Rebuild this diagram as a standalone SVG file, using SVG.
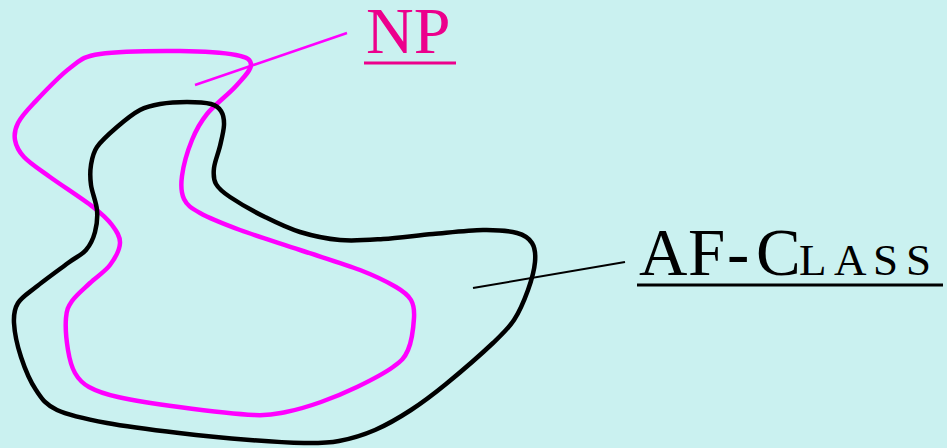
<svg xmlns="http://www.w3.org/2000/svg" width="947" height="448" viewBox="0 0 947 448">
<style>
.blob{fill:none;stroke-width:4.5;stroke-linejoin:round}
.np{stroke:#FF00FF}
.af{stroke:#000000}
.lead{fill:none;stroke-linecap:butt}
.lbl{font-family:"Liberation Serif","Times New Roman",serif}
</style>
<rect width="947" height="448" fill="#CAF1F0"/>
<g id="np-region">
<path class="blob np" d="M 100,54 C 118.3,51.2 157.3,50.8 180,51 C 202.7,51.2 224.2,52.7 236,55 C 247.8,57.3 251,59.8 251,65 C 251,70.2 243.3,77.8 236,86 C 228.7,94.2 214.3,105 207,114 C 199.7,123 196.2,129.7 192,140 C 187.8,150.3 183.3,166.2 182,176 C 180.7,185.8 181,192.8 184,199 C 187,205.2 190.7,207.8 200,213 C 209.3,218.2 223.3,223.8 240,230 C 256.7,236.2 280,243.3 300,250 C 320,256.7 344,263.8 360,270 C 376,276.2 387.5,282 396,287 C 404.5,292 408,294.8 411,300 C 414,305.2 414.5,309.7 414,318 C 413.5,326.3 411.5,341.8 408,350 C 404.5,358.2 401.5,360.8 393,367 C 384.5,373.2 369,381.2 357,387 C 345,392.8 332.8,397.8 321,402 C 309.2,406.2 297.2,409.8 286,412 C 274.8,414.2 271.8,415.8 254,415 C 236.2,414.2 201.7,410 179,407 C 156.3,404 133,400.3 118,397 C 103,393.7 96.2,391 89,387 C 81.8,383 78.5,379.2 75,373 C 71.5,366.8 69.5,359.2 68,350 C 66.5,340.8 65.3,326.2 66,318 C 66.7,309.8 68,306.8 72,301 C 76,295.2 83.7,289 90,283 C 96.3,277 105,271.7 110,265 C 115,258.3 119.7,249.7 120,243 C 120.3,236.3 116.5,231 112,225 C 107.5,219 103.3,215 93,207 C 82.7,199 61.5,185.3 50,177 C 38.5,168.7 29.8,163.2 24,157 C 18.2,150.8 16,145.7 15,140 C 14,134.3 15,129 18,123 C 21,117 24.3,113.2 33,104 C 41.7,94.8 58.8,76.3 70,68 C 81.2,59.7 81.7,56.8 100,54 Z"/>
<text class="lbl" x="366" y="53" font-size="66" fill="#EC008C">NP</text>
<rect x="364" y="61.5" width="92" height="3" fill="#EC008C"/>
</g>
<g id="af-class-region">
<path class="blob af" d="M 140,110 C 147.2,106.2 152.2,105.3 160,104 C 167.8,102.7 178.5,102 187,102 C 195.5,102 205.3,102.5 211,104 C 216.7,105.5 218.8,107.5 221,111 C 223.2,114.5 224.2,119.2 224,125 C 223.8,130.8 221.7,138.8 220,146 C 218.3,153.2 214.7,161.7 214,168 C 213.3,174.3 213.3,179.2 216,184 C 218.7,188.8 221.8,191.5 230,197 C 238.2,202.5 253.3,211.2 265,217 C 276.7,222.8 287.5,228.2 300,232 C 312.5,235.8 326.2,238.8 340,240 C 353.8,241.2 367.5,240 383,239 C 398.5,238 416.3,235.5 433,234 C 449.7,232.5 469,230.2 483,230 C 497,229.8 508.8,230.8 517,233 C 525.2,235.2 529,238.2 532,243 C 535,247.8 535.7,254.2 535,262 C 534.3,269.8 531.5,280.3 528,290 C 524.5,299.7 519.8,311.2 514,320 C 508.2,328.8 504.3,332.3 493,343 C 481.7,353.7 459.7,372.8 446,384 C 432.3,395.2 422.8,402.3 411,410 C 399.2,417.7 387,424.8 375,430 C 363,435.2 350.8,438.8 339,441 C 327.2,443.2 318.8,443.2 304,443 C 289.2,442.8 270.8,441.7 250,440 C 229.2,438.3 202.8,435.8 179,433 C 155.2,430.2 127.3,426.8 107,423 C 86.7,419.2 68.8,415.5 57,410 C 45.2,404.5 42,398.8 36,390 C 30,381.2 24.7,368.2 21,357 C 17.3,345.8 14.5,332 14,323 C 13.5,314 14.3,309 18,303 C 21.7,297 27.7,293.7 36,287 C 44.3,280.3 59.7,269.2 68,263 C 76.3,256.8 81.5,255.2 86,250 C 90.5,244.8 93.2,238.7 95,232 C 96.8,225.3 97.7,217.8 97,210 C 96.3,202.2 92,192.5 91,185 C 90,177.5 90,171.3 91,165 C 92,158.7 92.7,153.3 97,147 C 101.3,140.7 109.8,133.2 117,127 C 124.2,120.8 132.8,113.8 140,110 Z"/>
<text class="lbl" y="275" fill="#000000"><tspan x="639" font-size="67">A</tspan><tspan x="688" font-size="67">F</tspan><tspan x="727" font-size="67">-</tspan><tspan x="756" font-size="67">C</tspan><tspan x="799" font-size="45">L</tspan><tspan x="834" font-size="45">A</tspan><tspan x="873" font-size="45">S</tspan><tspan x="906" font-size="45">S</tspan></text>
<rect x="637" y="283.5" width="306" height="3" fill="#000000"/>
</g>
<g id="connectors">
<line class="lead" x1="195" y1="85" x2="347" y2="33" stroke="#FF00FF" stroke-width="2.5"/>
<line class="lead" x1="473" y1="288" x2="625" y2="262" stroke="#000000" stroke-width="2"/>
</g>
</svg>
